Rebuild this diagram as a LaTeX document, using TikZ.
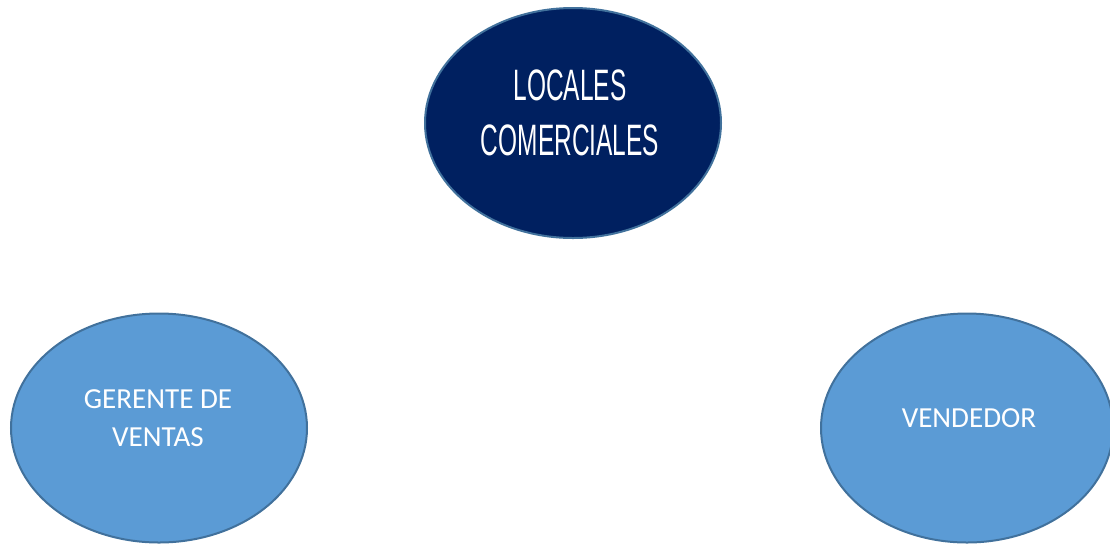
\documentclass[tikz,border=0pt]{standalone}
\usepackage{fontspec}
\usepackage{graphicx}
\setmainfont{Carlito}
\newfontfamily\titlefont{Liberation Sans}
\usetikzlibrary{shapes.geometric}
\definecolor{navy}{HTML}{002060}
\definecolor{lightblue}{HTML}{5B9BD5}
\definecolor{edgeblue}{HTML}{41719C}
\tikzset{
  bubble/.style={ellipse, draw=edgeblue, line width=1.5pt, inner sep=0pt},
  lbl/.style={text=white, align=center, anchor=base, inner sep=0pt}
}
\begin{document}
\begin{tikzpicture}[x=0.75pt, y=-0.75pt]
\useasboundingbox (0,0) rectangle (1110,544);
\begin{scope}
\clip (0,0) rectangle (1110,544);
\node[bubble, fill=navy, minimum width=296*0.75pt, minimum height=230*0.75pt] (top) at (573,123) {};
\node[bubble, fill=lightblue, minimum width=296*0.75pt, minimum height=229*0.75pt] (left) at (159,428) {};
\node[bubble, fill=lightblue, minimum width=292*0.75pt, minimum height=229*0.75pt] (right) at (967,428) {};
\end{scope}
\node[lbl, font=\titlefont\fontsize{33}{41.25}\selectfont] (toptext) at (570,155)
  {\scalebox{0.556}[1]{LOCALES}\\\scalebox{0.556}[1]{COMERCIALES}};
\node[lbl, font=\fontsize{21.8}{28.5}\selectfont] (lefttext) at (158,446) {GERENTE DE\\VENTAS};
\node[lbl, font=\fontsize{21.8}{28.5}\selectfont] (righttext) at (969,427) {VENDEDOR};
\end{tikzpicture}
\end{document}
